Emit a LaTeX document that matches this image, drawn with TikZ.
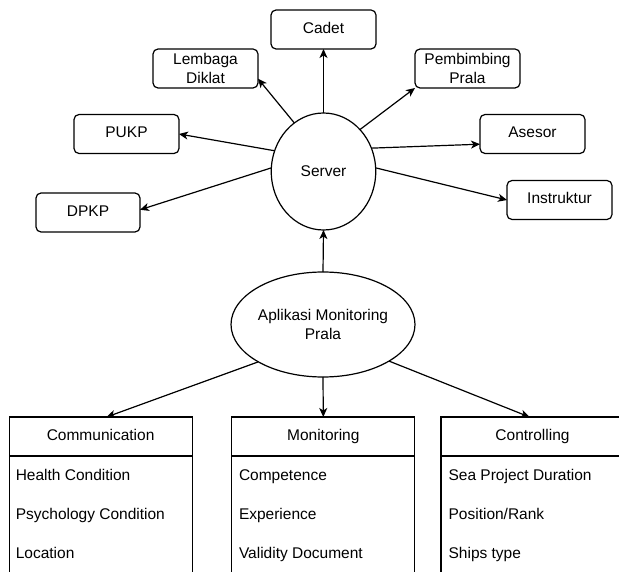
\documentclass[tikz,border=0pt]{standalone}
\usepackage{fontspec}
\setmainfont{Liberation Sans}
\usetikzlibrary{arrows.meta,shapes.geometric}
\begin{document}
\begin{tikzpicture}[x=1pt,y=-1pt,
  every node/.style={font=\fontsize{15.5}{19}\selectfont, inner sep=0pt, outer sep=0pt},
  rbox/.style={draw, rounded corners=5pt, minimum width=105pt, minimum height=39pt, align=center, line width=1.2pt},
  oneline/.style={text height=11.2pt, text depth=3.2pt},
  ell/.style={draw, ellipse, line width=1.2pt, align=center},
  arr/.style={line width=1.2pt, -{Stealth[length=9pt,width=8pt,inset=2.5pt]}},
  hdr/.style={draw, line width=1.2pt, minimum width=183pt, minimum height=39pt, text height=11.2pt, text depth=3.2pt},
  listbody/.style={draw, line width=1.2pt, minimum width=183pt, minimum height=160pt, anchor=north},
  item/.style={anchor=base west}
]
\useasboundingbox (0,0) rectangle (619,572);
\clip (0,0) rectangle (619,572);

% upper nodes
\node[rbox, oneline] (cadet) at (323.5,29.5) {Cadet};
\node[rbox] (lem) at (205.5,68.5) {Lembaga\\Diklat};
\node[rbox] (pem) at (467.5,68.5) {Pembimbing\\Prala};
\node[rbox, oneline] (pukp) at (126.5,134) {PUKP};
\node[rbox, oneline, minimum width=104pt] (dpkp) at (88,212.5) {DPKP};
\node[rbox, oneline] (ase) at (532.5,134) {Asesor};
\node[rbox, oneline] (ins) at (559.5,200) {Instruktur};
\node[ell, minimum width=104.5pt, minimum height=117pt] (srv) at (323.5,171.5) {Server};
\node[ell, minimum width=158pt, minimum height=105pt] (app) at (323,324.5) {Aplikasi Monitoring\\Prala};

% lower lists
\node[hdr] (comm) at (100.6,436.5) {Communication};
\node[listbody] (commb) at (comm.south) {};
\node[item] (c1) at (15.8,480.5) {Health Condition};
\node[item] (c2) at (15.8,519.5) {Psychology Condition};
\node[item] (c3) at (15.8,558.5) {Location};

\node[hdr] (mon) at (323.3,436.5) {Monitoring};
\node[listbody] (monb) at (mon.south) {};
\node[item] (m1) at (239,480.5) {Competence};
\node[item] (m2) at (239,519.5) {Experience};
\node[item] (m3) at (239,558.5) {Validity Document};

\node[hdr] (ctrl) at (532.5,436.5) {Controlling};
\node[listbody] (ctrlb) at (ctrl.south) {};
\node[item] (k1) at (448.6,480.5) {Sea Project Duration};
\node[item] (k2) at (448.6,519.5) {Position/Rank};
\node[item] (k3) at (448.6,558.5) {Ships type};

% connectors
\draw[arr] (srv.north) -- (cadet.south);
\draw[arr] (srv.121) -- (lem.-11);
\draw[arr] (srv.49) -- (pem.south west);
\draw[arr] (srv.157) -- (pukp.east);
\draw[arr] (srv.26) -- (ase.191);
\draw[arr] (srv.176) -- (dpkp.3);
\draw[arr] (srv.4) -- (ins.west);
\draw[arr] (app.north) -- (srv.south);
\draw[arr] (app.210) -- ([xshift=6pt]comm.north);
\draw[arr] (app.south) -- (mon.north);
\draw[arr] (app.-29) -- ([xshift=-3pt]ctrl.north);
\end{tikzpicture}
\end{document}
